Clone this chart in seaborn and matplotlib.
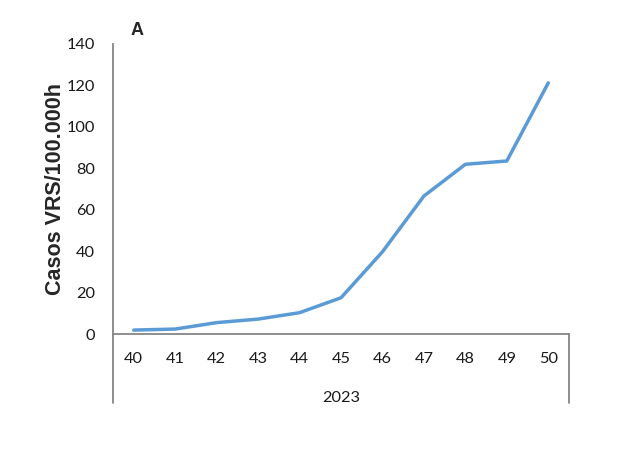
import matplotlib
matplotlib.use('Agg')
import matplotlib.pyplot as plt
import seaborn as sns
import pandas as pd

# Weekly RSV cases per 100,000 inhabitants, 2023
weeks = ['40', '41', '42', '43', '44', '45', '46', '47', '48', '49', '50']
cases = [1.9, 2.4, 5.5, 7.2, 10.3, 17.5, 39.7, 66.6, 81.9, 83.5, 121.2]
year_label = '2023'
y_ticks = [0, 20, 40, 60, 80, 100, 120, 140]

df = pd.DataFrame({'week': weeks, 'cases': cases})

sns.set_style('white')
plt.rcParams['font.family'] = ['Lato', 'DejaVu Sans']

fig = plt.figure(figsize=(6.4, 4.62), dpi=100)
ax = fig.add_axes([0.1766, 0.277, 0.7125, 0.628])

sns.lineplot(data=df, x='week', y='cases', ax=ax, color='#5B9BD5', linewidth=2.5)

ax.set_xlim(-0.5, len(weeks) - 0.5)
ax.set_ylim(0, 140)
ax.set_yticks(y_ticks)
ax.tick_params(axis='both', length=0, labelsize=11.8, labelcolor='#1a1a1a')
ax.tick_params(axis='y', pad=13)
ax.tick_params(axis='x', pad=13)

for side in ['top', 'right']:
    ax.spines[side].set_visible(False)
for side in ['left', 'bottom']:
    ax.spines[side].set_color('#868686')
    ax.spines[side].set_linewidth(1.3)

# category box under the axis
ax.plot([0, 0], [0, -0.238], transform=ax.transAxes, color='#868686', lw=1.3, clip_on=False)
ax.plot([1, 1], [0, -0.238], transform=ax.transAxes, color='#868686', lw=1.3, clip_on=False)
ax.text(0.5, -0.221, year_label, transform=ax.transAxes, ha='center', va='center',
        fontsize=11.8, color='#1a1a1a')

ax.set_xlabel('')
ax.set_ylabel('Casos VRS/100.000h', fontsize=15.5, fontweight='bold',
              family=['Liberation Sans', 'DejaVu Sans'])
ax.yaxis.set_label_coords(-0.103, 0.5)

fig.text(0.214, 0.935, 'A', fontsize=13, fontweight='bold',
         family=['Liberation Sans', 'DejaVu Sans'], ha='center', va='center')

fig.savefig('out.png', dpi=100)
